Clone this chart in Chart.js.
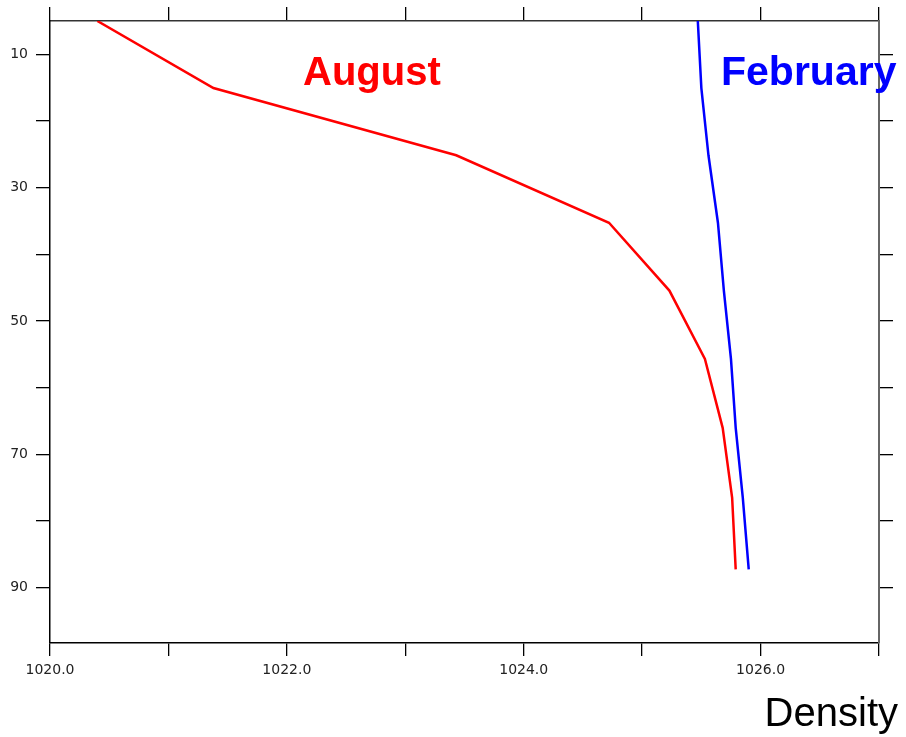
<!DOCTYPE html>
<html>
<head>
<meta charset="utf-8">
<script src="https://cdn.jsdelivr.net/npm/chart.js@4/dist/chart.umd.min.js"></script>
<style>
  html, body { margin: 0; padding: 0; background: #fff; }
  #wrap { width: 906px; height: 737px; }
</style>
</head>
<body>
<div id="wrap"><canvas id="density-chart" width="906" height="737"></canvas></div>
<script>
// depth levels (m) and density profiles
const depths = [5.02, 15.08, 25.16, 35.28, 45.45, 55.69, 66.04, 76.55, 87.27];
const augustDensity = [1020.40, 1021.38, 1023.43, 1024.72, 1025.23, 1025.53, 1025.68, 1025.76, 1025.79];
const februaryDensity = [1025.47, 1025.50, 1025.56, 1025.64, 1025.69, 1025.75, 1025.79, 1025.85, 1025.90];

const xTickLabels = [1020, 1022, 1024, 1026];
const yTickLabels = [10, 30, 50, 70, 90];
const xRange = [1020, 1027];
const yRange = [5.02, 98.31];

const toPoints = vals => vals.map((v, i) => ({ x: v, y: depths[i] }));

const tickFont = { family: 'DejaVu Sans', size: 14 };

// draw the free text labels
const textLabels = {
    id: 'textLabels',
    afterDraw(chart) {
        const ctx = chart.ctx;
        ctx.save();
        ctx.textBaseline = 'alphabetic';
        ctx.textAlign = 'left';
        ctx.font = 'bold 40px "Liberation Sans", Arial, sans-serif';
        ctx.fillStyle = '#ff0000';
        ctx.fillText('August', 303, 85);
        ctx.font = 'bold 41px "Liberation Sans", Arial, sans-serif';
        ctx.fillStyle = '#0000ff';
        ctx.fillText('February', 721, 85);
        ctx.font = '40px "Liberation Sans", Arial, sans-serif';
        ctx.fillStyle = '#000';
        ctx.textAlign = 'right';
        ctx.fillText('Density', 898, 726);
        ctx.restore();
    }
};

const densityChart = new Chart(document.getElementById('density-chart'), {
    type: 'scatter',
    data: {
        datasets: [{
            label: 'August',
            data: toPoints(augustDensity),
            showLine: true,
            borderColor: '#ff0000',
            borderWidth: 2.5,
            pointRadius: 0,
            xAxisID: 'x',
            yAxisID: 'y'
        }, {
            label: 'February',
            data: toPoints(februaryDensity),
            showLine: true,
            borderColor: '#0000ff',
            borderWidth: 2.5,
            pointRadius: 0,
            xAxisID: 'x',
            yAxisID: 'y'
        }]
    },
    options: {
        responsive: false,
        animation: false,
        layout: { padding: 0 },
        plugins: {
            legend: { display: false },
            tooltip: { enabled: false }
        },
        scales: {
            x: {
                type: 'linear',
                position: 'bottom',
                min: xRange[0],
                max: xRange[1],
                afterFit(scale) { scale.height = 94; },
                ticks: {
                    stepSize: 1,
                    autoSkip: false,
                    maxRotation: 0,
                    padding: 6,
                    color: '#222',
                    font: tickFont,
                    callback: v => xTickLabels.includes(v) ? v.toFixed(1) : ''
                },
                grid: { drawOnChartArea: false, tickLength: 13, tickColor: '#000', lineWidth: 1.3 },
                border: { color: '#000', width: 1.5 }
            },
            x2: {
                type: 'linear',
                position: 'top',
                min: xRange[0],
                max: xRange[1],
                afterFit(scale) { scale.height = 21; },
                ticks: { stepSize: 1, display: false },
                grid: { drawOnChartArea: false, tickLength: 14, tickColor: '#000', lineWidth: 1.3 },
                border: { color: '#333', width: 1.5 }
            },
            y: {
                type: 'linear',
                position: 'left',
                reverse: true,
                min: yRange[0],
                max: yRange[1],
                afterFit(scale) { scale.width = 50; },
                ticks: {
                    stepSize: 10,
                    includeBounds: false,
                    autoSkip: false,
                    padding: 8,
                    color: '#222',
                    font: tickFont,
                    callback: v => yTickLabels.includes(v) ? String(v) : ''
                },
                grid: { drawOnChartArea: false, tickLength: 14, tickColor: '#000', lineWidth: 1.3 },
                border: { color: '#000', width: 1.5 }
            },
            y2: {
                type: 'linear',
                position: 'right',
                reverse: true,
                min: yRange[0],
                max: yRange[1],
                afterFit(scale) { scale.width = 27; },
                ticks: { stepSize: 10, includeBounds: false, display: false },
                grid: { drawOnChartArea: false, tickLength: 14, tickColor: '#000', lineWidth: 1.3 },
                border: { color: '#666', width: 2 }
            }
        }
    },
    plugins: [textLabels]
});
</script>
</body>
</html>
